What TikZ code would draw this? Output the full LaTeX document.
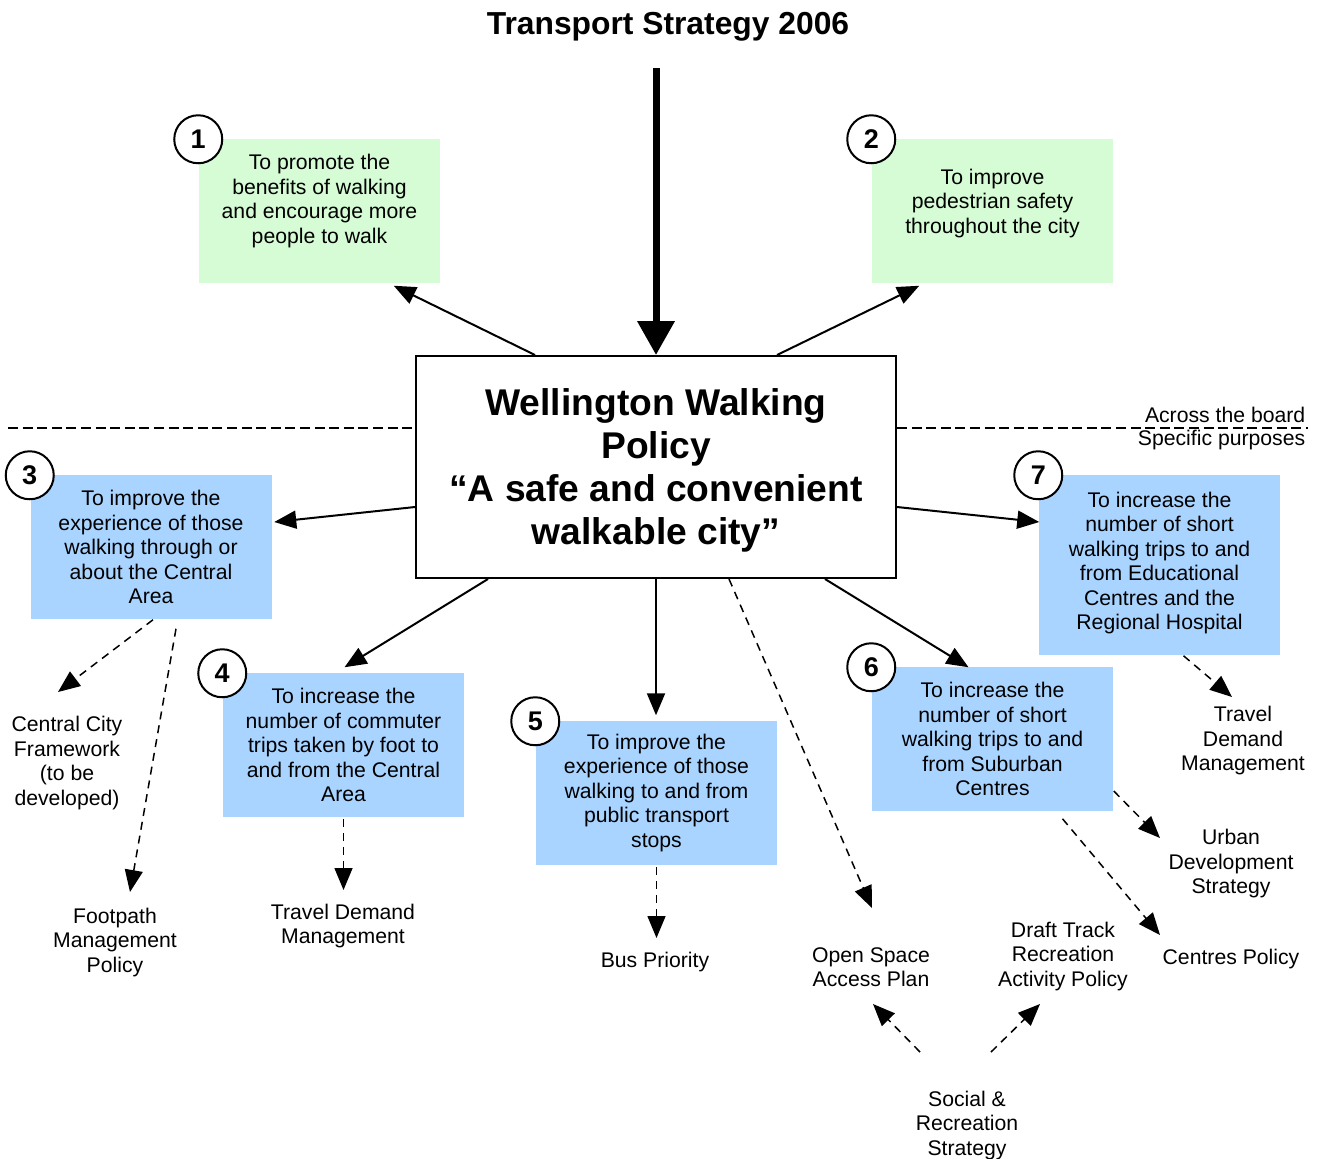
\documentclass[tikz,border=0pt]{standalone}
\usepackage{fontspec}
\setmainfont{Liberation Sans}
\usetikzlibrary{arrows.meta,calc}

\definecolor{goalgreen}{RGB}{213,252,213}
\definecolor{goalblue}{RGB}{168,212,255}

\tikzset{every picture/.style={line width=0.75pt}}
\tikzset{
  goal/.style={draw=none, minimum width=120.5pt, minimum height=72pt, inner sep=2pt,
    align=center, font=\fontsize{10.6}{12.25}\selectfont},
  greengoal/.style={goal, fill=goalgreen},
  bluegoal/.style={goal, fill=goalblue},
  goalnum/.style={circle, draw, line width=1pt, fill=white, minimum size=24pt, inner sep=0pt,
    font=\fontsize{13.5}{13.5}\selectfont\bfseries},
  plantext/.style={align=center, inner sep=1pt, font=\fontsize{10.6}{12.25}\selectfont},
  arr/.style={line width=1pt, -{Triangle[length=11pt,width=9pt]}},
  darr/.style={line width=0.75pt, dash pattern=on 4pt off 3pt, -{Triangle[length=11pt,width=9pt]}},
  divider/.style={line width=0.8pt, dash pattern=on 5pt off 2.3pt}
}

\begin{document}
\begin{tikzpicture}[x=0.5pt,y=0.5pt,yscale=-1,xscale=1]
\useasboundingbox (0,0) rectangle (1322,1158);

%Title and policy box
\node[font=\fontsize{15.9}{18}\selectfont\bfseries] (title) at (668,27) {Transport Strategy 2006};
\node[draw, line width=1pt, minimum width=240pt, minimum height=111pt, align=center, text depth=0pt,
  font=\fontsize{18.6}{21.5}\selectfont\bfseries] (wwp) at (656,467)
  {Wellington Walking\\Policy\\``A safe and convenient\\walkable city''};
\coordinate (ts) at (656,68);
\draw[line width=3.5pt, -{Triangle[length=17pt,width=18pt]}] (ts) -- (wwp.north);

%Divider
\coordinate (dl) at (8,428);
\coordinate (dr) at (1308,428);
\draw[divider] (dl) -- (dl -| wwp.west);
\draw[divider] (wwp.east |- dr) -- (dr);
\node[plantext, anchor=south east] (atb) at ($(dr)+(0,-3)$) {Across the board};
\node[plantext, anchor=north east] (spp) at ($(dr)+(0,-1)$) {Specific purposes};

%Goal boxes
\node[greengoal] (g1) at (319.5,211) {To promote the\\benefits of walking\\and encourage more\\people to walk\\ \mbox{}};
\node[greengoal] (g2) at (992.5,211) {To improve\\pedestrian safety\\throughout the city\\[-2.25pt] \mbox{}};
\node[bluegoal] (g3) at (151,547) {To improve the\\experience of those\\walking through or\\about the Central\\Area};
\node[bluegoal] (g4) at (343.5,745) {To increase the\\number of commuter\\trips taken by foot to\\and from the Central\\Area};
\node[bluegoal] (g5) at (656.5,793) {To improve the\\experience of those\\walking to and from\\public transport\\stops};
\node[bluegoal] (g6) at (992.5,739) {To increase the\\number of short\\walking trips to and\\from Suburban\\Centres};
\node[bluegoal, minimum height=90pt] (g7) at (1159.5,565) {To increase the\\number of short\\walking trips to and\\from Educational\\Centres and the\\Regional Hospital\\[-8.25pt] \mbox{}};

%Numbers
\foreach \g/\n in {g1/1,g2/2,g3/3,g4/4,g5/5,g6/6,g7/7}
  \node[goalnum] (n\n) at ($(\g.north west)+(0,1)$) {\n};

%Plans and policies
\node[plantext] (ccf) at (67,763) {Central City\\Framework\\(to be\\developed)};
\node[plantext] (fmp) at (115,942) {Footpath\\Management\\Policy};
\node[plantext] (tdmc) at (343,926) {Travel Demand\\Management};
\node[plantext] (bus) at (655,962) {Bus Priority};
\node[plantext] (osap) at (871,967) {Open Space\\Access Plan};
\node[plantext] (dtr) at (1063,956) {Draft Track\\Recreation\\Activity Policy};
\node[plantext] (cp) at (1231,959) {Centres Policy};
\node[plantext] (uds) at (1231,864) {Urban\\Development\\Strategy};
\node[plantext] (tdme) at (1243,741) {Travel\\Demand\\Management};
\node[plantext] (srs) at (967,1125) {Social \&\\Recreation\\Strategy};

%Policy to goals
\draw[arr] ($(wwp.north west)+(120,0)$) -- ($(g1.south east)+(-47,2)$);
\draw[arr] ($(wwp.north east)+(-120,0)$) -- ($(g2.south west)+(48,2)$);
\draw[arr] ($(wwp.west)+(0,40)$) -- ($(g3.east)+(2,-25)$);
\draw[arr] ($(wwp.east)+(0,40)$) -- ($(g7.west)+(1,-43)$);
\draw[arr] ($(wwp.south west)+(73,0)$) -- ($(g4.north)+(1,-5)$);
\draw[arr] (wwp.south) -- ($(wwp.south |- g5.north)+(0,-5)$);
\draw[arr] ($(wwp.south east)+(-72,0)$) -- ($(g6.north)+(-24,1)$);
\draw[darr] ($(wwp.south)+(73,0)$) -- ($(osap)+(1,-59)$);

%Goals to plans
\draw[darr] ($(g3.south)+(2,0)$) -- ($(ccf)+(-9,-71)$);
\draw[darr] ($(g3.south)+(25,9)$) -- ($(fmp)+(15,-50)$);
\draw[darr] ($(g4.south)+(0,1)$) -- ($(g4.south |- tdmc)+(0,-36)$);
\draw[darr] ($(g5.south)+(0,1)$) -- ($(g5.south |- bus)+(0,-24)$);
\draw[darr] ($(g7.south)+(24,0)$) -- ($(tdme)+(-11,-44)$);
\draw[darr] ($(g6.east)+(0,52)$) -- ($(uds)+(-71,-26)$);
\draw[darr] ($(g6.south)+(70,7)$) -- ($(cp)+(-71,-24)$);
\draw[darr] ($(srs)+(-47,-73)$) -- ($(osap)+(2,37)$);
\draw[darr] ($(srs)+(24,-73)$) -- ($(dtr)+(-23,48)$);

\end{tikzpicture}
\end{document}
